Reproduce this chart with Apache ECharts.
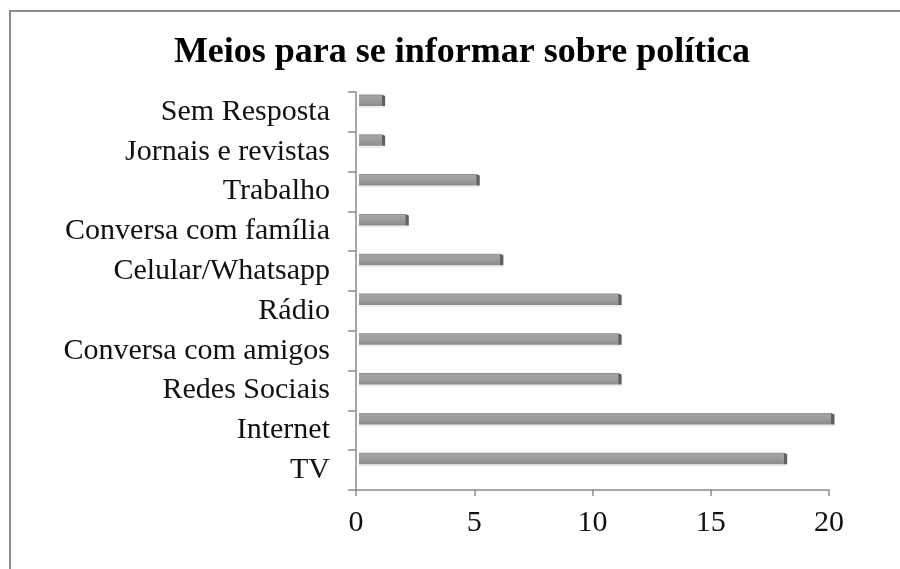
<!DOCTYPE html>
<html>
<head>
<meta charset="utf-8">
<title>Meios para se informar sobre política</title>
<script src="https://cdn.jsdelivr.net/npm/echarts@6/dist/echarts.min.js"></script>
<style>
  html, body { margin: 0; padding: 0; background: #ffffff; }
  #chart { width: 900px; height: 569px; }
</style>
</head>
<body>
<div id="chart"></div>
<script>
// Categories listed bottom to top, as the category axis stacks them
const categories = [
  'TV', 'Internet', 'Redes Sociais', 'Conversa com amigos', 'Rádio',
  'Celular/Whatsapp', 'Conversa com família', 'Trabalho',
  'Jornais e revistas', 'Sem Resposta'
];
const respostas = [18, 20, 11, 11, 11, 6, 2, 5, 1, 1];
const xTicks = [0, 5, 10, 15, 20];

const serif = '"Liberation Serif", "Times New Roman", serif';
const axisGray = '#8a8a8a';

const chart = echarts.init(document.getElementById('chart'), null, { renderer: 'canvas' });

// Each bar is a thin box with a shaded face and a darker end cap,
// pushed slightly up and right to suggest depth.
function renderBar(params, api) {
  const v = api.value(0);
  const cat = api.value(1);
  const start = api.coord([0, cat]);
  const end = api.coord([v, cat]);
  const band = api.size([0, 1])[1];
  const h = 11.5;
  const top = start[1] - band / 2 + 2.5;
  const x0 = start[0] + 3;
  const x1 = end[0] + 2;
  const capW = 3.5;
  return {
    type: 'group',
    children: [
      { // soft shadow below the bar
        type: 'rect',
        shape: { x: x0, y: top + h, width: x1 - x0 + capW, height: 2 },
        style: { fill: 'rgba(0,0,0,0.07)' }
      },
      {
        type: 'rect',
        shape: { x: x0, y: top, width: x1 - x0, height: h },
        style: {
          fill: new echarts.graphic.LinearGradient(0, 0, 0, 1, [
            { offset: 0, color: '#888888' },
            { offset: 0.12, color: '#a4a4a4' },
            { offset: 0.55, color: '#9c9c9c' },
            { offset: 1, color: '#8a8a8a' }
          ])
        }
      },
      {
        type: 'polygon',
        shape: { points: [[x1, top], [x1 + capW, top + 1.5], [x1 + capW, top + h], [x1, top + h]] },
        style: { fill: '#5f5f5f' }
      }
    ]
  };
}

const option = {
  animation: false,
  backgroundColor: '#ffffff',
  title: {
    text: 'Meios para se informar sobre política',
    left: 457,
    top: 30,
    textAlign: 'center',
    textStyle: {
      fontFamily: serif,
      fontWeight: 'bold',
      fontSize: 36,
      color: '#000000'
    }
  },
  graphic: [
    { // outer chart frame
      type: 'rect',
      shape: { x: 10, y: 11, width: 1000, height: 1000 },
      style: { fill: 'none', stroke: '#8c8c8c', lineWidth: 2 },
      silent: true
    }
  ],
  grid: { left: 356, top: 92, width: 473, height: 398 },
  xAxis: {
    type: 'value',
    min: xTicks[0],
    max: xTicks[xTicks.length - 1],
    interval: xTicks[1] - xTicks[0],
    axisLine: { show: true, lineStyle: { color: axisGray, width: 1.5 } },
    axisTick: { show: true, length: 6, lineStyle: { color: axisGray, width: 1.5 } },
    splitLine: { show: false },
    axisLabel: {
      margin: 18,
      fontFamily: serif,
      fontSize: 30,
      color: '#111111'
    }
  },
  yAxis: {
    type: 'category',
    data: categories,
    boundaryGap: true,
    axisLine: { show: true, lineStyle: { color: axisGray, width: 1.5 } },
    axisTick: { show: true, length: 8, lineStyle: { color: axisGray, width: 1.5 } },
    axisLabel: {
      margin: 26,
      fontFamily: serif,
      fontSize: 30,
      color: '#111111'
    }
  },
  series: [{
    type: 'custom',
    renderItem: renderBar,
    encode: { x: 0, y: 1 },
    data: respostas.map((v, i) => [v, i])
  }]
};

chart.setOption(option);
</script>
</body>
</html>
